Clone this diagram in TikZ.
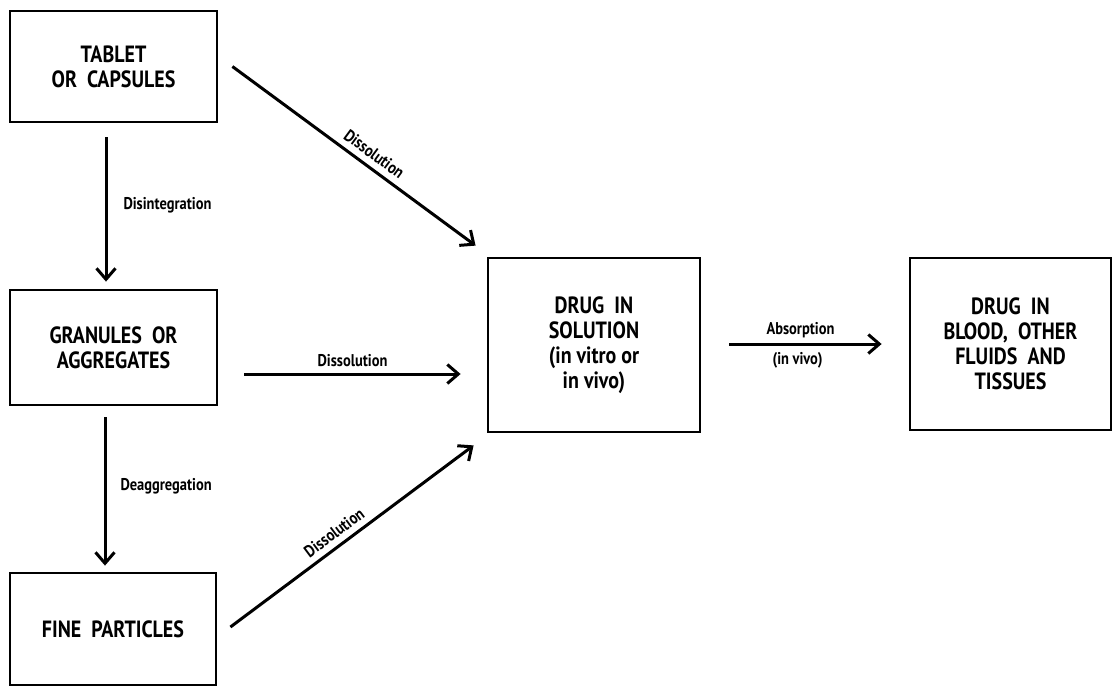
\documentclass[tikz,border=0pt]{standalone}
\usepackage{fontspec}
\setmainfont{PT Sans}
\newfontfamily\nfont{PT Sans}[FakeStretch=0.85]
\usetikzlibrary{arrows.meta,calc}
\begin{document}
\begin{tikzpicture}[x=1pt,y=-1pt,
  box/.style={draw,line width=2.8pt,inner sep=0pt,align=center,
    font=\nfont\bfseries\fontsize{23.5}{25}\selectfont},
  conn/.style={line width=3pt,-{Straight Barb[length=11pt,width=19pt,line width=3pt]}},
  lab/.style={font=\nfont\bfseries\fontsize{17}{19}\selectfont,inner sep=1pt}]
\useasboundingbox (0,0) rectangle (1113,686);
\fill[white] (0,0) rectangle (1113,686);
\node[box,minimum width=207pt,minimum height=111pt] (b1) at (113.5,66.5) {TABLET\\OR~~CAPSULES};
\node[box,minimum width=207pt,minimum height=115pt] (b2) at (113.5,347.5) {GRANULES~~OR\\AGGREGATES};
\node[box,minimum width=206pt,minimum height=112pt] (b3) at (113,629) {FINE~~PARTICLES};
\node[box,minimum width=212pt,minimum height=174pt] (b4) at (594,345) {DRUG~~IN\\SOLUTION\\(in vitro or\\in vivo)};
\node[box,minimum width=201pt,minimum height=172pt] (b5) at (1010.5,344) {DRUG~~IN\\BLOOD,~~OTHER\\FLUIDS~~AND\\TISSUES};
% vertical arrows
\draw[conn] ([xshift=-7.5pt,yshift=-14pt]b1.south) -- ([xshift=-7.5pt,yshift=7pt]b2.north)
  node[lab,midway,anchor=west,xshift=15pt,yshift=4pt] {Disintegration};
\draw[conn] ([xshift=-8.5pt,yshift=-11pt]b2.south) -- ([xshift=-8pt,yshift=6pt]b3.north)
  node[lab,midway,anchor=west,xshift=13pt,yshift=5pt] {Deaggregation};
% dissolution arrows
\draw[conn] ([xshift=14pt]b1.east) -- ([xshift=-11pt,yshift=11pt]b4.north west)
  node[lab,pos=0.55,sloped,above=5pt] {Dissolution};
\draw[conn] ([xshift=26pt,yshift=-26.5pt]b2.east) -- ([xshift=-26pt,yshift=-29pt]b4.west)
  node[lab,midway,above=5pt] {Dissolution};
\draw[conn] ([xshift=13pt,yshift=2pt]b3.east) -- ([xshift=-13pt,yshift=-12pt]b4.south west)
  node[lab,pos=0.46,sloped,above=5pt] {Dissolution};
% absorption
\draw[conn] ([xshift=28pt,yshift=1pt]b4.east) -- ([xshift=-27pt]b5.west)
  node[lab,midway,above=4pt,xshift=-5pt] {Absorption}
  node[lab,midway,below=6pt,xshift=-8pt] {(in vivo)};
\end{tikzpicture}
\end{document}
